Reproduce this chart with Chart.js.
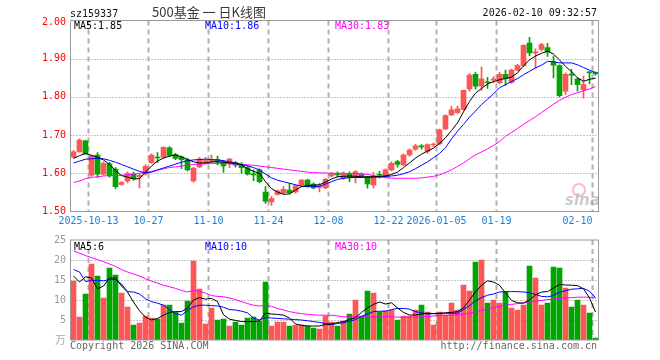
<!DOCTYPE html>
<html>
<head>
<meta charset="utf-8">
<script src="https://cdn.jsdelivr.net/npm/chart.js@4.4.1/dist/chart.umd.min.js"></script>
<style>
html,body{margin:0;padding:0;background:#fff;}
#wrap{position:relative;width:660px;height:360px;overflow:hidden;}
#kline{position:absolute;left:0;top:0;width:660px;height:232px;}
#vol{position:absolute;left:0;top:232px;width:660px;height:128px;}
</style>
</head>
<body>
<div id="wrap">
  <canvas id="kline" width="660" height="232"></canvas>
  <canvas id="vol" width="660" height="128"></canvas>
</div>
<script>
/* 500基金 日K线图 sz159337 */
const dates = ['2025-09-30',
  '2025-10-09','2025-10-10','2025-10-13','2025-10-14','2025-10-15','2025-10-16','2025-10-17',
  '2025-10-20','2025-10-21','2025-10-22','2025-10-23','2025-10-24','2025-10-27','2025-10-28',
  '2025-10-29','2025-10-30','2025-10-31',
  '2025-11-03','2025-11-04','2025-11-05','2025-11-06','2025-11-07','2025-11-10','2025-11-11',
  '2025-11-12','2025-11-13','2025-11-14','2025-11-17','2025-11-18','2025-11-19','2025-11-20',
  '2025-11-21','2025-11-24','2025-11-25','2025-11-26','2025-11-27','2025-11-28',
  '2025-12-01','2025-12-02','2025-12-03','2025-12-04','2025-12-05','2025-12-08','2025-12-09',
  '2025-12-10','2025-12-11','2025-12-12','2025-12-15','2025-12-16','2025-12-17','2025-12-18',
  '2025-12-19','2025-12-22','2025-12-23','2025-12-24','2025-12-25','2025-12-26','2025-12-29',
  '2025-12-30','2025-12-31',
  '2026-01-05','2026-01-06','2026-01-07','2026-01-08','2026-01-09','2026-01-12','2026-01-13',
  '2026-01-14','2026-01-15','2026-01-16','2026-01-19','2026-01-20','2026-01-21','2026-01-22',
  '2026-01-23','2026-01-26','2026-01-27','2026-01-28','2026-01-29','2026-01-30',
  '2026-02-02','2026-02-03','2026-02-04','2026-02-05','2026-02-06','2026-02-09','2026-02-10'];

const open  = [1.642,1.656,1.685,1.595,1.648,1.598,1.625,1.611,1.571,1.580,
  1.597,1.591,1.598,1.628,1.642,1.642,1.667,1.649,1.643,1.635,
  1.580,1.617,1.628,1.630,1.636,1.631,1.626,1.628,1.622,1.615,
  1.598,1.609,1.551,1.525,1.545,1.549,1.556,1.551,1.569,1.582,
  1.572,1.563,1.562,1.593,1.600,1.587,1.600,1.591,1.598,1.589,
  1.569,1.597,1.591,1.609,1.631,1.622,1.648,1.663,1.671,1.657,
  1.674,1.677,1.716,1.753,1.759,1.767,1.821,1.859,1.828,1.839,
  1.844,1.837,1.859,1.838,1.870,1.882,1.941,1.915,1.924,1.929,
  1.892,1.882,1.815,1.859,1.847,1.819,1.865,1.864];
const high  = [1.660,1.690,1.686,1.648,1.654,1.630,1.629,1.615,1.578,1.604,
  1.603,1.599,1.622,1.651,1.654,1.670,1.670,1.652,1.646,1.640,
  1.616,1.642,1.642,1.648,1.645,1.634,1.640,1.631,1.628,1.618,
  1.609,1.612,1.565,1.540,1.557,1.565,1.574,1.570,1.584,1.585,
  1.575,1.574,1.587,1.602,1.604,1.604,1.604,1.607,1.601,1.592,
  1.602,1.605,1.612,1.630,1.634,1.651,1.664,1.676,1.675,1.677,
  1.680,1.716,1.753,1.775,1.776,1.818,1.861,1.864,1.879,1.851,
  1.853,1.864,1.870,1.873,1.885,1.937,1.956,1.926,1.940,1.940,
  1.907,1.884,1.863,1.872,1.850,1.854,1.866,1.865];
const low   = [1.640,1.655,1.650,1.592,1.589,1.595,1.590,1.560,1.569,1.575,
  1.582,1.562,1.595,1.626,1.628,1.640,1.644,1.636,1.612,1.606,
  1.577,1.615,1.625,1.628,1.622,1.602,1.615,1.616,1.600,1.595,
  1.581,1.575,1.521,1.516,1.543,1.547,1.547,1.548,1.566,1.564,
  1.559,1.551,1.560,1.590,1.590,1.584,1.578,1.575,1.590,1.561,
  1.561,1.588,1.588,1.606,1.616,1.620,1.644,1.660,1.663,1.652,
  1.670,1.675,1.714,1.751,1.757,1.765,1.815,1.820,1.817,1.822,
  1.837,1.833,1.830,1.836,1.868,1.880,1.907,1.876,1.920,1.906,
  1.850,1.800,1.806,1.832,1.815,1.797,1.834,1.857];
const close = [1.656,1.687,1.651,1.646,1.598,1.626,1.593,1.565,1.576,1.599,
  1.586,1.595,1.618,1.648,1.640,1.668,1.647,1.639,1.636,1.609,
  1.613,1.637,1.633,1.634,1.630,1.619,1.637,1.621,1.615,1.598,
  1.596,1.578,1.527,1.534,1.554,1.558,1.549,1.567,1.582,1.567,
  1.562,1.567,1.584,1.600,1.596,1.600,1.588,1.604,1.594,1.572,
  1.593,1.595,1.609,1.626,1.623,1.648,1.661,1.672,1.669,1.675,
  1.676,1.714,1.751,1.766,1.769,1.817,1.857,1.828,1.847,1.837,
  1.846,1.859,1.848,1.870,1.882,1.935,1.915,1.918,1.937,1.917,
  1.883,1.803,1.859,1.857,1.832,1.832,1.863,1.860];

const ma5  = [1.639,1.646,1.652,1.647,1.642,1.635,1.623,1.607,1.594,1.590,
  1.585,1.586,1.603,1.619,1.632,1.640,1.645,1.648,1.643,1.636,
  1.630,1.627,1.627,1.630,1.630,1.629,1.627,1.626,1.622,1.612,
  1.605,1.600,1.578,1.560,1.551,1.545,1.546,1.556,1.565,1.568,
  1.569,1.570,1.577,1.585,1.591,1.592,1.593,1.592,1.591,1.591,
  1.591,1.592,1.593,1.597,1.603,1.615,1.627,1.640,1.650,1.658,
  1.666,1.678,1.693,1.712,1.732,1.761,1.788,1.810,1.822,1.834,
  1.840,1.845,1.848,1.852,1.863,1.881,1.897,1.907,1.914,1.920,
  1.912,1.897,1.880,1.866,1.850,1.841,1.846,1.849];
const ma10 = [1.627,1.632,1.637,1.638,1.639,1.638,1.634,1.629,1.623,1.617,
  1.611,1.605,1.601,1.603,1.609,1.614,1.619,1.624,1.629,1.633,
  1.635,1.636,1.637,1.636,1.635,1.633,1.630,1.627,1.623,1.620,
  1.615,1.609,1.598,1.588,1.582,1.578,1.574,1.570,1.566,1.565,
  1.565,1.566,1.572,1.578,1.584,1.587,1.589,1.589,1.589,1.589,
  1.590,1.590,1.592,1.593,1.595,1.599,1.604,1.612,1.621,1.630,
  1.641,1.652,1.667,1.690,1.710,1.728,1.747,1.763,1.780,1.794,
  1.808,1.824,1.832,1.840,1.848,1.858,1.867,1.876,1.883,1.893,
  1.892,1.889,1.889,1.889,1.884,1.877,1.870,1.864];
const ma30 = [1.576,1.580,1.586,1.589,1.591,1.593,1.594,1.594,1.595,1.596,
  1.598,1.600,1.602,1.605,1.608,1.612,1.615,1.617,1.619,1.621,
  1.623,1.624,1.625,1.626,1.626,1.626,1.625,1.624,1.623,1.622,
  1.621,1.619,1.617,1.615,1.613,1.611,1.609,1.607,1.605,1.603,
  1.602,1.601,1.601,1.600,1.600,1.600,1.599,1.599,1.598,1.597,
  1.594,1.591,1.589,1.587,1.587,1.587,1.587,1.587,1.588,1.590,
  1.592,1.596,1.602,1.609,1.618,1.627,1.638,1.648,1.656,1.664,
  1.673,1.683,1.697,1.707,1.717,1.728,1.738,1.748,1.759,1.770,
  1.781,1.791,1.799,1.806,1.811,1.816,1.821,1.827];

// 成交量 (万)
const vol  = [14.75,5.75,11.5,19.0,16.0,10.5,18.0,16.25,11.75,8.25,
  3.75,4.25,6.0,5.5,5.25,8.75,8.75,7.0,4.25,9.75,
  19.75,12.75,4.0,8.0,5.0,5.25,3.5,4.5,3.75,5.5,
  5.75,4.75,14.5,3.5,4.5,4.5,3.5,3.75,3.75,3.5,
  3.0,2.75,6.0,4.5,3.5,4.75,6.5,10.0,6.0,12.25,
  11.75,7.0,7.25,7.5,5.0,6.0,6.0,7.5,8.75,7.0,
  3.75,7.0,6.25,9.25,7.5,13.75,12.25,19.5,20.0,9.25,
  10.0,9.25,12.0,8.0,7.5,8.75,18.5,15.5,8.75,9.25,
  18.25,18.0,13.0,8.25,10.0,8.75,6.75,0.5];
const vma5  = [16,14.5,15.8,15.5,12.8,13.5,15.5,15.5,13.5,12,
  9.5,7.3,5.7,5.0,5.4,6.2,6.9,7.1,7.1,8.0,
  10.0,10.6,10.2,10.4,9.6,6.3,5.2,4.9,4.6,4.6,
  4.6,4.8,6.7,6.5,6.4,6.2,5.5,4.0,3.7,3.5,
  3.5,3.5,3.9,4.0,4.4,4.6,5.1,5.6,6.9,8.0,
  8.9,9.5,9.0,9.3,8.0,6.9,6.25,6.25,6.5,6.7,
  6.6,6.6,6.8,6.9,7.1,8.0,10.0,12.0,13.7,14.8,
  14.5,13.7,11.8,9.9,9.3,9.2,10.0,11.3,12.0,12.1,
  13.0,13.9,13.75,13.7,13.6,12.8,10.5,7.0];
const vma10 = [17.6,17.0,14.6,14.9,14.9,14.8,15.1,15.1,14.0,12.1,
  12.0,11.5,10.3,9.6,9.2,8.7,7.6,6.6,6.2,7.4,
  8.3,8.7,8.7,8.6,8.5,8.2,7.6,7.5,7.2,6.8,
  5.5,5.0,5.6,5.5,5.4,5.3,5.2,5.1,5.0,4.8,
  4.6,4.4,4.1,3.9,4.1,4.3,4.7,5.1,5.9,6.5,
  7.1,7.2,7.2,7.6,7.9,7.9,7.7,7.1,6.8,6.5,
  6.6,6.7,6.7,6.7,6.7,7.6,8.6,9.8,10.6,11.2,
  11.5,12.0,12.1,12.1,12.1,12.0,11.8,11.4,10.9,10.8,
  11.1,12.0,12.3,12.7,12.8,12.9,12.2,10.6];
const vma30 = [22.3,21.7,21.1,20.6,20.1,19.6,19.0,18.4,17.6,17.0,
  16.5,16.0,15.3,14.7,14.2,13.7,13.3,12.9,12.4,12.0,
  12.4,12.2,11.7,11.1,10.9,10.8,10.5,10.1,9.6,9.1,
  8.7,8.5,8.7,8.4,7.9,7.5,7.1,6.8,6.6,6.4,
  6.3,6.2,6.2,6.2,6.0,5.8,5.8,5.8,5.8,5.8,
  5.8,5.8,5.8,5.8,5.7,5.7,5.7,5.7,5.8,5.9,
  6.0,6.1,6.2,6.2,6.3,6.5,6.7,7.0,7.4,7.7,
  8.1,8.4,8.7,8.9,9.1,9.3,9.5,9.7,9.9,10.1,
  10.2,10.4,10.5,10.6,10.7,10.7,10.7,10.5];

// 坐标轴
const axisDates = ['2025-10-13','2025-10-27','2025-11-10','2025-11-24','2025-12-08','2025-12-22','2026-01-05','2026-01-19','2026-02-10'];
const axisText  = ['2025-10-13','10-27','11-10','11-24','12-08','12-22','2026-01-05','01-19','02-10'];
const priceTicks = [2.0,1.9,1.8,1.7,1.6,1.5];
const volTicks   = [25,20,15,10,5];

const RED = '#ff5555', GREEN = '#00a600';
const MONO = '10px "DejaVu Sans Mono", monospace';
const upColor = close.map((c,i)=> c>=open[i] ? RED : GREEN);

function slotLeft(x, d){
  const i = dates.indexOf(d);
  return Math.floor(x.getPixelForValue(i) - (x.right - x.left)/dates.length/2) + 0.5;
}
function seg(ctx,x1,y1,x2,y2){ ctx.beginPath(); ctx.moveTo(x1,y1); ctx.lineTo(x2,y2); ctx.stroke(); }

function drawGrid(chart, hvals){
  const {ctx, chartArea:a, scales:{x,y}} = chart;
  ctx.save();
  ctx.lineWidth = 1;
  ctx.strokeStyle = '#8c8c8c'; ctx.setLineDash([1,2]);
  hvals.forEach(v=>{ const py = Math.round(y.getPixelForValue(v))+0.5; seg(ctx,a.left,py,a.right,py); });
  ctx.strokeStyle = '#b0b0b0'; ctx.lineWidth = 2; ctx.setLineDash([5,4]);
  axisDates.forEach(d=>{ const px = slotLeft(x,d); seg(ctx,px,a.top,px,a.bottom); });
  ctx.restore();
}
function drawBorder(chart){
  const {ctx, chartArea:a} = chart;
  ctx.save();
  ctx.strokeStyle = '#999'; ctx.lineWidth = 1;
  ctx.strokeRect(a.left, a.top, a.right-a.left, a.bottom-a.top);
  ctx.restore();
}
function txt(ctx, s, x, y, color, align, font){
  ctx.fillStyle = color; ctx.textAlign = align||'left'; ctx.font = font||MONO;
  ctx.fillText(s, x, y);
}

const priceDeco = {
  id:'priceDeco',
  beforeDatasetsDraw(chart){ drawGrid(chart,[1.6,1.7,1.8,1.9]); },
  afterDatasetsDraw(chart){
    const {ctx, scales:{x,y}} = chart;
    drawBorder(chart);
    ctx.save();
    ctx.textBaseline = 'middle';
    priceTicks.forEach(v=>{
      const py = y.getPixelForValue(v) + (v===2.0 ? 2 : 0);
      txt(ctx, v.toFixed(2), 66, py, '#ff0000', 'right');
    });
    ctx.textBaseline = 'alphabetic';
    axisDates.forEach((d,i)=>{
      const px = slotLeft(x,d);
      const last = i===axisDates.length-1;
      txt(ctx, axisText[i], px, 224, '#1a7fd6', last ? 'right' : 'center');
    });
    txt(ctx, 'sz159337', 70, 17, '#111');
    txt(ctx, '500基金 一 日K线图', 209, 17, '#3a3a3a', 'center', '13px "Noto Sans CJK SC", sans-serif');
    txt(ctx, '2026-02-10 09:32:57', 597, 16, '#111', 'right');
    txt(ctx, 'MA5:1.85', 74, 29, '#000');
    txt(ctx, 'MA10:1.86', 205, 29, '#0000ff');
    txt(ctx, 'MA30:1.83', 335, 29, '#ff00ff');
    // sina watermark
    ctx.globalAlpha = 0.5;
    ctx.strokeStyle = '#f08080'; ctx.lineWidth = 2;
    ctx.beginPath(); ctx.arc(579, 190, 6, 0, Math.PI*2); ctx.stroke();
    txt(ctx, 'sina', 565, 205, '#999', 'left', 'italic bold 15px "DejaVu Sans", sans-serif');
    ctx.restore();
  }
};

const volDeco = {
  id:'volDeco',
  beforeDatasetsDraw(chart){ drawGrid(chart,[5,10,15,20]); },
  afterDatasetsDraw(chart){
    const {ctx, scales:{y}} = chart;
    drawBorder(chart);
    ctx.save();
    ctx.textBaseline = 'middle';
    volTicks.forEach(v=> txt(ctx, String(v), 66, y.getPixelForValue(v), '#999', 'right'));
    txt(ctx, '万', 66, y.getPixelForValue(0), '#aaa', 'right', '11px "Noto Sans CJK SC", sans-serif');
    ctx.textBaseline = 'alphabetic';
    txt(ctx, 'MA5:6', 74, 18, '#000');
    txt(ctx, 'MA10:10', 205, 18, '#0000ff');
    txt(ctx, 'MA30:10', 335, 18, '#ff00ff');
    txt(ctx, 'Copyright 2026 SINA.COM', 70, 117, '#666');
    txt(ctx, 'http://finance.sina.com.cn', 597, 117, '#666', 'right');
    ctx.restore();
  }
};

function lineSet(data, color){
  return {type:'line', data, borderColor:color, borderWidth:1, pointRadius:0, tension:0, order:0};
}
const hiddenX = {type:'category', offset:true, display:false};

new Chart(document.getElementById('kline'), {
  type:'bar',
  data:{
    labels: dates,
    datasets:[
      {data: low.map((l,i)=>[l, high[i]]), backgroundColor: upColor, barThickness:1, grouped:false, order:2},
      {data: open.map((o,i)=>[o, close[i]]), backgroundColor: upColor, barThickness:5, minBarLength:1, grouped:false, order:1},
      lineSet(ma5, '#000000'),
      lineSet(ma10, '#0000ff'),
      lineSet(ma30, '#ff00ff')
    ]
  },
  options:{
    responsive:false, animation:false,
    layout:{padding:{left:70.5, right:61.5, top:20.5, bottom:20.5}},
    plugins:{legend:{display:false}, tooltip:{enabled:false}},
    scales:{ x:hiddenX, y:{type:'linear', min:1.5, max:2.0, display:false} }
  },
  plugins:[priceDeco]
});

new Chart(document.getElementById('vol'), {
  type:'bar',
  data:{
    labels: dates,
    datasets:[
      {data: vol, backgroundColor: upColor, barThickness:5, grouped:false, order:1},
      lineSet(vma5, '#000000'),
      lineSet(vma10, '#0000ff'),
      lineSet(vma30, '#ff00ff')
    ]
  },
  options:{
    responsive:false, animation:false,
    layout:{padding:{left:70.5, right:61.5, top:8, bottom:20}},
    plugins:{legend:{display:false}, tooltip:{enabled:false}},
    scales:{ x:hiddenX, y:{type:'linear', min:0, max:25, display:false} }
  },
  plugins:[volDeco]
});
</script>
</body>
</html>
